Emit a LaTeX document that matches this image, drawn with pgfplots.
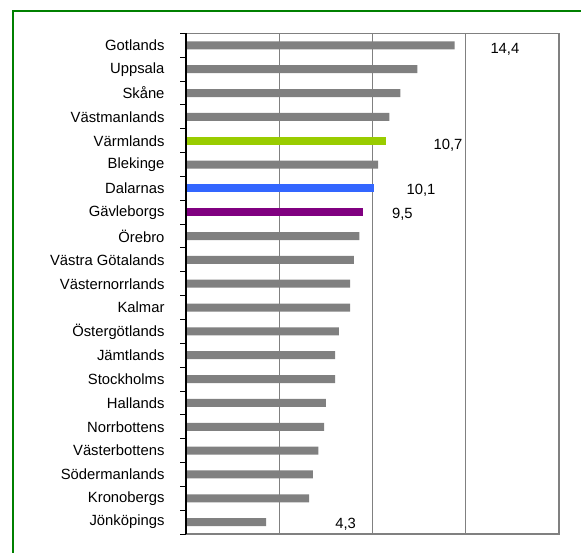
\documentclass[border=0pt]{standalone}
\usepackage{pgfplots}
\pgfplotsset{compat=1.18}
\usepackage{fontspec}
\setmainfont{Liberation Sans}
\definecolor{bargray}{HTML}{808080}
\definecolor{bargreen}{HTML}{99CC00}
\definecolor{barblue}{HTML}{3366FF}
\definecolor{barpurple}{HTML}{800080}
\definecolor{framegreen}{HTML}{008000}
\begin{document}
\begin{tikzpicture}
\useasboundingbox (0pt,0pt) rectangle (581pt,553pt);
\draw[framegreen, line width=2pt] (13pt,-5pt) -- (13pt,542pt) -- (590pt,542pt);
\begin{axis}[
  at={(186pt,19pt)}, anchor=south west,
  scale only axis, width=373pt, height=500.5pt,
  xmin=0, xmax=20, ymin=-0.5, ymax=20.5,
  y dir=reverse,
  xbar, bar width=8pt,
  xtick={5,10,15}, xticklabels={},
  xmajorgrids,
  major grid style={bargray, line width=1.3pt},
  major tick length=0pt,
  minor tick length=6pt,
  tick align=outside,
  ytick pos=left,
  major x tick style={draw=none},
  major y tick style={draw=none},
  minor y tick num=1,
  minor y tick style={black, line width=1pt},
  ytick={0,...,20},
  yticklabels={Gotlands,Uppsala,Skåne,Västmanlands,Värmlands,Blekinge,Dalarnas,Gävleborgs,Örebro,Västra Götalands,Västernorrlands,Kalmar,Östergötlands,Jämtlands,Stockholms,Hallands,Norrbottens,Västerbottens,Södermanlands,Kronobergs,Jönköpings},
  yticklabel style={font=\fontsize{14.8}{16}\selectfont, xshift=-18pt},
  axis line style={bargray, line width=1.2pt},
  clip=false,
]
\addplot[xbar, bar shift=0pt, fill=bargray, draw=none] coordinates {
  (14.4,0) (12.4,1) (11.5,2) (10.9,3) (10.3,5)
  (9.3,8) (9.0,9) (8.8,10) (8.8,11) (8.2,12) (8.0,13) (8.0,14)
  (7.5,15) (7.4,16) (7.1,17) (6.8,18) (6.6,19) (4.3,20)};
\addplot[xbar, bar shift=0pt, fill=bargreen, draw=none] coordinates {(10.7,4)};
\addplot[xbar, bar shift=0pt, fill=barblue, draw=none] coordinates {(10.1,6)};
\addplot[xbar, bar shift=0pt, fill=barpurple, draw=none] coordinates {(9.5,7)};
\draw[black, line width=1.3pt] (rel axis cs:0,0) -- (rel axis cs:0,1);
\draw[black, line width=1pt] (rel axis cs:0,0) -- ++(-6pt,0pt);
\draw[black, line width=1pt] (rel axis cs:0,1) -- ++(-6pt,0pt);
\begin{scope}[every node/.style={font=\fontsize{14.8}{16}\selectfont, inner sep=0pt}]
\node at (axis cs:17.1,0.15) {14,4};
\node at (axis cs:14.05,4.2) {10,7};
\node at (axis cs:12.6,6.07) {10,1};
\node at (axis cs:11.6,7.1) {9,5};
\node at (axis cs:8.56,20.1) {4,3};
\end{scope}
\end{axis}
\end{tikzpicture}
\end{document}
